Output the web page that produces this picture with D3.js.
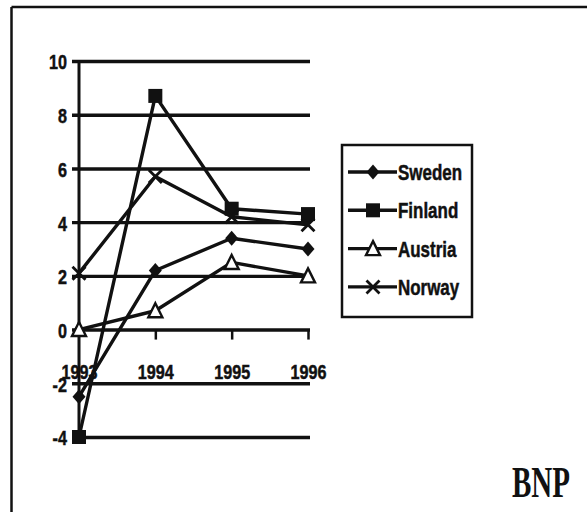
<!DOCTYPE html>
<html>
<head>
<meta charset="utf-8">
<script src="https://cdn.jsdelivr.net/npm/d3@7"></script>
<style>
  html, body { margin: 0; padding: 0; background: #fff; }
  svg { display: block; }
  .lbl { font-family: "Liberation Sans", Arial, sans-serif; font-weight: bold; fill: #111;
         stroke: #111; stroke-width: 0.5px; }
</style>
</head>
<body>
<svg id="chart" width="587" height="512"></svg>
<script>
// Real GDP growth, % per year
const years = ["1993", "1994", "1995", "1996"];
const yTicks = [-4, -2, 0, 2, 4, 6, 8, 10];
const sweden  = [-2.5, 2.2, 3.4, 3.0];
const finland = [-4.0, 8.7, 4.5, 4.3];
const austria = [0.0, 0.7, 2.5, 2.0];
const norway  = [2.1, 5.7, 4.2, 3.9];
const seriesNames = ["Sweden", "Finland", "Austria", "Norway"];
const brand = "BNP";

const series = [
  { name: seriesNames[0], values: sweden,  marker: "diamond" },
  { name: seriesNames[1], values: finland, marker: "square" },
  { name: seriesNames[2], values: austria, marker: "triangle" },
  { name: seriesNames[3], values: norway,  marker: "cross" }
];

const svg = d3.select("#chart");
const ink = "#111";

// page frame (top and left rules)
svg.append("line").attr("x1", 11.5).attr("x2", 587).attr("y1", 7).attr("y2", 7)
  .attr("stroke", ink).attr("stroke-width", 2.5);
svg.append("line").attr("x1", 11.5).attr("x2", 11.5).attr("y1", 7).attr("y2", 512)
  .attr("stroke", ink).attr("stroke-width", 2.5);

const x = d3.scalePoint().domain(years).range([79, 308]).padding(0);
const y = d3.scaleLinear().domain([-4, 10]).range([437, 61]);
const gridLeft = 72, gridRight = 310;

// horizontal gridlines with value labels
const yAxis = svg.append("g").attr("transform", `translate(${gridLeft},0)`)
  .call(d3.axisLeft(y).tickValues(yTicks).tickSize(-(gridRight - gridLeft)).tickPadding(5)
        .tickFormat(d => String(d)));
yAxis.select(".domain").remove();
yAxis.selectAll(".tick line").attr("stroke", ink).attr("stroke-width", 3.4);
yAxis.selectAll(".tick text").attr("class", "lbl").attr("font-size", 21).attr("dy", "0.38em");

// vertical value axis
svg.append("line").attr("x1", x(years[0])).attr("x2", x(years[0]))
  .attr("y1", y(10)).attr("y2", y(-4))
  .attr("stroke", ink).attr("stroke-width", 3);

// category axis on the zero line
const xAxis = svg.append("g").attr("transform", `translate(0,${y(0)})`)
  .call(d3.axisBottom(x).tickSize(10).tickPadding(25));
xAxis.select(".domain").remove();
xAxis.selectAll(".tick line").attr("stroke", ink).attr("stroke-width", 2.5)
  .attr("display", (d, i) => i === 0 ? "none" : null);
xAxis.selectAll(".tick text").attr("class", "lbl").attr("font-size", 21);

// series lines
const line = d3.line().x((d, i) => x(years[i])).y(d => y(d));
svg.append("g").selectAll("path").data(series).join("path")
  .attr("d", s => line(s.values))
  .attr("fill", "none").attr("stroke", ink).attr("stroke-width", 3.4)
  .attr("stroke-linejoin", "round");

function drawMarker(g, type, cx, cy) {
  if (type === "diamond") {
    g.append("path").attr("d", `M${cx},${cy - 7.5}L${cx + 6.5},${cy}L${cx},${cy + 7.5}L${cx - 6.5},${cy}Z`)
      .attr("fill", ink);
  } else if (type === "square") {
    g.append("rect").attr("x", cx - 7).attr("y", cy - 7).attr("width", 14).attr("height", 14)
      .attr("fill", ink);
  } else if (type === "triangle") {
    g.append("path").attr("d", `M${cx},${cy - 7.5}L${cx + 7},${cy + 6.5}L${cx - 7},${cy + 6.5}Z`)
      .attr("fill", "#fff").attr("stroke", ink).attr("stroke-width", 2.4);
  } else {
    g.append("path").attr("d", `M${cx - 6.5},${cy - 6.5}L${cx + 6.5},${cy + 6.5}M${cx + 6.5},${cy - 6.5}L${cx - 6.5},${cy + 6.5}`)
      .attr("stroke", ink).attr("stroke-width", 2.8);
  }
}

const markers = svg.append("g");
series.forEach(s => {
  s.values.forEach((v, i) => drawMarker(markers, s.marker, x(years[i]), y(v)));
});

// legend
const legend = svg.append("g");
legend.append("rect").attr("x", 342).attr("y", 145).attr("width", 130).attr("height", 172)
  .attr("fill", "#fff").attr("stroke", ink).attr("stroke-width", 2.5);
series.forEach((s, i) => {
  const ly = 172 + i * 38.3;
  legend.append("line").attr("x1", 348).attr("x2", 397).attr("y1", ly).attr("y2", ly)
    .attr("stroke", ink).attr("stroke-width", 3.4);
  drawMarker(legend, s.marker, 373, ly);
  legend.append("text").attr("class", "lbl").attr("x", 398).attr("y", ly).attr("dy", "0.36em")
    .attr("font-size", 22).text(s.name);
});

// condensed lettering: squeeze every label horizontally
svg.selectAll("text.lbl").each(function () {
  const w = this.getComputedTextLength();
  d3.select(this).attr("textLength", w * 0.77).attr("lengthAdjust", "spacingAndGlyphs");
});

// publisher mark
svg.append("text").attr("x", 512).attr("y", 497)
  .attr("font-family", "'Liberation Serif', 'Times New Roman', serif").attr("font-weight", "bold")
  .attr("font-size", 44).attr("fill", ink)
  .attr("textLength", 58).attr("lengthAdjust", "spacingAndGlyphs").text(brand);
</script>
</body>
</html>
